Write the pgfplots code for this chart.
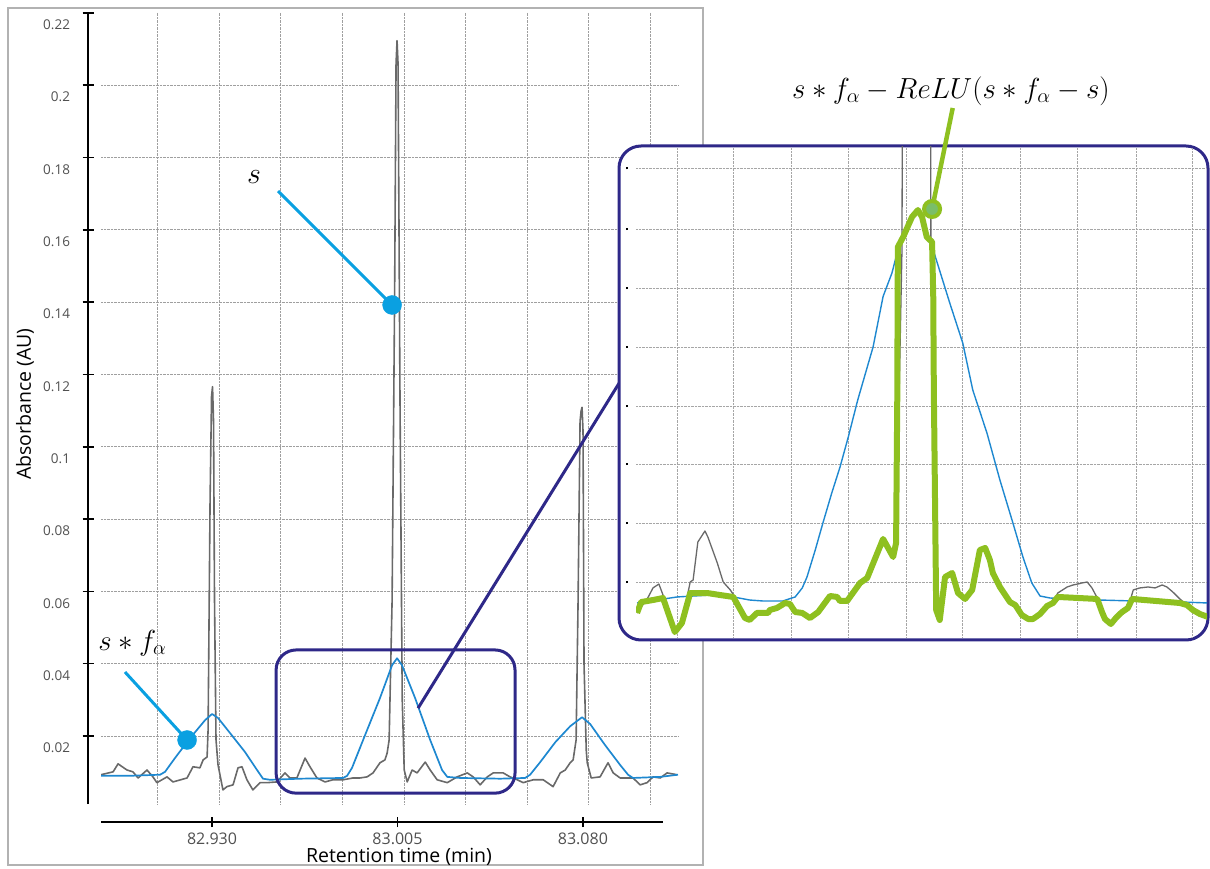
\RequirePackage{fix-cm}
\documentclass[border=0pt]{standalone}
\usepackage[no-math]{fontspec}
\usepackage{pgfplots}
\pgfplotsset{compat=1.18, scaled ticks=false}
\newfontfamily\osans{Open Sans}
\definecolor{indig}{RGB}{46,40,136}
\definecolor{sgray}{RGB}{105,105,105}
\definecolor{fblue}{RGB}{30,136,208}
\definecolor{acyan}{RGB}{10,160,225}
\definecolor{ggreen}{RGB}{142,192,32}
\definecolor{gfill}{RGB}{122,190,105}
\definecolor{tlab}{RGB}{80,80,80}
\begin{document}
\begin{tikzpicture}
\useasboundingbox (0,0) rectangle (1210pt,868pt);
\draw[gray!60, line width=1.2pt] (8pt,860pt) rectangle (703pt,3pt);

% ---------- main plot area ----------
\begin{axis}[at={(101pt,64pt)}, anchor=south west, scale only axis,
  width=577pt, height=791.2pt,
  xmin=82.8851, xmax=83.1184, ymin=0.0012, ymax=0.22,
  axis line style={draw=none}, major tick length=0pt,
  xtick={82.9081,82.9329,82.9578,82.9827,83.0076,83.0325,83.0574,83.0823,83.1072},
  ytick={0.02,0.04,0.06,0.08,0.1,0.12,0.14,0.16,0.18,0.2},
  xticklabels={}, yticklabels={},
  grid=major, grid style={gray!75, densely dotted, line width=0.8pt},
  clip mode=individual]
\addplot[sgray, line width=1.6pt, line join=round] coordinates {
(82.8851,0.0093)(82.8900,0.0101)(82.8920,0.0123)(82.8956,0.0106)(82.8980,0.0101)(82.9001,0.0084)(82.9037,0.0106)(82.9061,0.0087)(82.9077,0.0071)(82.9118,0.0087)(82.9142,0.0073)(82.9199,0.0084)(82.9223,0.0115)(82.9251,0.0112)(82.9264,0.0134)(82.9280,0.0142)(82.9284,0.0217)(82.9292,0.085)(82.9298,0.114)(82.9302,0.1166)(82.9306,0.107)(82.9310,0.0575)(82.9316,0.019)(82.9324,0.0121)(82.9344,0.0051)(82.9360,0.0060)(82.9385,0.0065)(82.9405,0.0112)(82.9421,0.0115)(82.9441,0.0079)(82.9465,0.0051)(82.9494,0.0071)(82.9522,0.0071)(82.9562,0.0073)(82.9595,0.0098)(82.9615,0.0084)(82.9643,0.0084)(82.9676,0.0139)(82.9696,0.0115)(82.9724,0.0084)(82.9757,0.0073)(82.9789,0.0079)(82.9830,0.0079)(82.9870,0.0084)(82.9898,0.0084)(82.9927,0.0087)(82.9951,0.0098)(82.9979,0.0126)(82.9999,0.0134)(83.0008,0.0153)(83.0016,0.0189)(83.0028,0.0575)(83.0038,0.140)(83.0044,0.206)(83.0048,0.2123)(83.0052,0.206)(83.0060,0.1126)(83.0069,0.030)(83.0077,0.0106)(83.0089,0.0073)(83.0109,0.0106)(83.0129,0.0098)(83.0162,0.0128)(83.0182,0.0106)(83.0210,0.0079)(83.0251,0.0071)(83.0291,0.0087)(83.0332,0.0098)(83.0356,0.0087)(83.0384,0.0065)(83.0413,0.0087)(83.0437,0.0098)(83.0477,0.0098)(83.0505,0.0087)(83.0534,0.0079)(83.0558,0.0071)(83.0599,0.0079)(83.0639,0.0079)(83.0679,0.0060)(83.0708,0.0098)(83.0728,0.0106)(83.0748,0.0126)(83.0760,0.0134)(83.0772,0.0189)(83.0780,0.0575)(83.0788,0.107)(83.0792,0.1098)(83.0796,0.1109)(83.0800,0.1043)(83.0804,0.040)(83.0813,0.0161)(83.0817,0.0126)(83.0833,0.0084)(83.0869,0.0087)(83.0901,0.0126)(83.0922,0.0098)(83.0950,0.0084)(83.1002,0.0084)(83.1031,0.0065)(83.1059,0.0071)(83.1083,0.0087)(83.1112,0.0084)(83.1140,0.0098)(83.1180,0.0093)};
\addplot[fblue, line width=1.7pt, line join=round] coordinates {
(82.8851,0.0090)(82.8968,0.0090)(82.9090,0.0093)(82.9110,0.0101)(82.9150,0.0139)(82.9211,0.0194)(82.9272,0.0244)(82.9300,0.0261)(82.9324,0.0250)(82.9373,0.0208)(82.9433,0.0156)(82.9482,0.0106)(82.9506,0.0082)(82.9534,0.0079)(82.9656,0.0082)(82.9830,0.0084)(82.9846,0.0090)(82.9866,0.0112)(82.9919,0.0203)(82.9979,0.0305)(83.0028,0.0396)(83.0048,0.0415)(83.0068,0.0396)(83.0121,0.0305)(83.0182,0.0189)(83.0230,0.0106)(83.0251,0.0087)(83.0303,0.0084)(83.0465,0.0082)(83.0566,0.0084)(83.0586,0.0093)(83.0627,0.0128)(83.0688,0.0183)(83.0748,0.0227)(83.0796,0.0252)(83.0829,0.0233)(83.0889,0.0175)(83.0950,0.0120)(83.0982,0.0093)(83.1002,0.0084)(83.1112,0.0087)(83.1184,0.0093)};
% zoom box and connector
\draw[indig, line width=3pt, rounded corners=20pt] (axis cs:82.9559,0.0438) rectangle (axis cs:83.0525,0.0042);
\draw[indig, line width=3pt] (axis cs:83.0133,0.0277) -- (axis cs:83.0946,0.1176);
% annotations
\draw[acyan, line width=3pt] (axis cs:82.9567,0.1707) -- (axis cs:83.0028,0.1392);
\addplot[only marks, mark=*, mark size=9.5pt, color=acyan] coordinates {(83.0028,0.1392)};
\draw[acyan, line width=3pt] (axis cs:82.8948,0.0377) -- (axis cs:82.9199,0.0189);
\addplot[only marks, mark=*, mark size=9.5pt, color=acyan] coordinates {(82.9199,0.0189)};
\node[anchor=base, font=\fontsize{30}{34}\selectfont] at (axis cs:82.9470,0.1729) {$s$};
\node[anchor=base, font=\fontsize{29}{33}\selectfont] at (axis cs:82.8978,0.0437) {$s * f_\alpha$};
\end{axis}

% ---------- y axis ----------
\begin{axis}[at={(88pt,64pt)}, anchor=south west, scale only axis,
  width=20pt, height=791.2pt, xmin=0, xmax=1, ymin=0.0012, ymax=0.22,
  axis y line=left, axis x line=none,
  y axis line style={-, line width=1.6pt, black},
  ytick={0.02,0.04,0.06,0.08,0.1,0.12,0.14,0.16,0.18,0.2,0.22},
  yticklabels={0.02,0.04,0.06,0.08,0.1,0.12,0.14,0.16,0.18,0.2,0.22},
  tick align=center, major tick length=11pt,
  major tick style={line width=1.6pt, black},
  yticklabel style={font=\osans\fontsize{13.5}{16}\selectfont, text=tlab, anchor=east, xshift=-9pt, yshift=-12pt}]
\addplot[draw=none] coordinates {(0.5,0.1)};
\end{axis}

% ---------- x axis ----------
\begin{axis}[at={(101pt,46pt)}, anchor=south west, scale only axis,
  width=562pt, height=10pt, xmin=82.8851, xmax=83.1124, ymin=0, ymax=1,
  axis x line=bottom, axis y line=none,
  x axis line style={-, line width=1.6pt, black},
  xtick={82.930,83.005,83.080}, xticklabels={82.930,83.005,83.080},
  tick align=center, major tick length=10pt,
  major tick style={line width=1.6pt, black},
  xticklabel style={font=\osans\fontsize{16}{19}\selectfont, text=tlab, yshift=-2pt}]
\addplot[draw=none] coordinates {(83.0,0.5)};
\end{axis}

\node[font=\osans\fontsize{19.5}{23}\selectfont, anchor=base] at (399pt,6pt) {Retention time (min)};
\node[font=\osans\fontsize{19.5}{23}\selectfont, rotate=90, anchor=base] at (31pt,464pt) {Absorbance (AU)};

% ---------- inset ----------
\draw[indig, line width=3pt, fill=white, rounded corners=22pt] (619pt,722pt) rectangle (1208pt,228pt);
\begin{axis}[at={(636pt,231pt)}, anchor=south west, scale only axis,
  width=571pt, height=490pt,
  xmin=82.95582, xmax=83.05260, ymin=0.005792, ymax=0.052019,
  axis line style={draw=none}, major tick length=0pt,
  xtick={82.9628,82.9724,82.9821,82.9919,83.0016,83.0112,83.0210,83.0307,83.0406,83.0501},
  ytick={0.01098,0.01655,0.02211,0.02758,0.03315,0.03872,0.04428,0.05},
  xticklabels={}, yticklabel={\rule{2.2pt}{2.2pt}},
  yticklabel style={anchor=center, inner sep=0pt, xshift=-9pt},
  grid=major, grid style={gray!70, densely dotted, line width=0.8pt},
  clip mode=individual]
\addplot[sgray, line width=1.3pt, line join=round] coordinates {
(82.9560,0.00806)(82.9579,0.00957)(82.9587,0.01042)(82.9597,0.01079)(82.9604,0.00975)(82.9624,0.00626)(82.9636,0.00711)(82.9650,0.01098)(82.9655,0.01117)(82.9663,0.01475)(82.9675,0.01579)(82.9680,0.01523)(82.9696,0.01277)(82.9706,0.01098)(82.9718,0.01023)(82.9726,0.00957)(82.9743,0.00758)(82.9751,0.00740)(82.9763,0.00806)(82.9782,0.00806)(82.9785,0.00834)(82.9797,0.00853)(82.9811,0.00900)(82.9819,0.00891)(82.9828,0.00815)(82.9840,0.00806)(82.9853,0.00758)(82.9867,0.00815)(82.9887,0.00966)(82.9899,0.00957)(82.9904,0.00919)(82.9916,0.00919)(82.9938,0.01089)(82.9950,0.01136)(82.9977,0.01504)(82.9994,0.01334)(82.9999,0.01466)(83.0004,0.02815)(83.0009,0.04230)(83.0012,0.10362)(83.0034,0.2123)(83.0056,0.10362)(83.0058,0.04296)(83.0062,0.02815)(83.0065,0.00928)(83.0067,0.00834)(83.0073,0.00740)(83.0082,0.01145)(83.0094,0.01183)(83.0104,0.00994)(83.0116,0.00938)(83.0128,0.01023)(83.0141,0.01400)(83.0150,0.01419)(83.0158,0.01306)(83.0163,0.01183)(83.0175,0.01051)(83.0192,0.00909)(83.0201,0.00881)(83.0212,0.00787)(83.0223,0.00749)(83.0231,0.00749)(83.0243,0.00796)(83.0255,0.00872)(83.0265,0.00900)(83.0273,0.00994)(83.0289,0.01051)(83.0299,0.01070)(83.0307,0.01079)(83.0314,0.01089)(83.0323,0.01098)(83.0331,0.01042)(83.0340,0.00947)(83.0348,0.00815)(83.0353,0.00749)(83.0363,0.00702)(83.0373,0.00768)(83.0382,0.00815)(83.0392,0.00853)(83.0401,0.01023)(83.0412,0.01042)(83.0426,0.01051)(83.0438,0.01042)(83.0450,0.01070)(83.0458,0.01051)(83.0468,0.01004)(83.0480,0.00938)(83.0492,0.00881)(83.0502,0.00834)(83.0514,0.00796)(83.0528,0.00768)};
\addplot[fblue, line width=1.4pt, line join=round] coordinates {
(82.9560,0.00900)(82.9628,0.00957)(82.9684,0.00975)(82.9723,0.00957)(82.9751,0.00928)(82.9773,0.00919)(82.9807,0.00919)(82.9828,0.00957)(82.9840,0.01042)(82.9848,0.01145)(82.9862,0.01400)(82.9875,0.01655)(82.9890,0.01938)(82.9904,0.02183)(82.9918,0.02466)(82.9934,0.02815)(82.9960,0.03315)(82.9977,0.03792)(82.9992,0.04013)(83.0002,0.04230)(83.0011,0.04353)(83.0026,0.04542)(83.0036,0.04607)(83.0043,0.04542)(83.0051,0.04353)(83.0062,0.04230)(83.0090,0.03730)(83.0112,0.03353)(83.0129,0.02909)(83.0153,0.02504)(83.0175,0.02060)(83.0197,0.01655)(83.0214,0.01334)(83.0229,0.01089)(83.0243,0.00966)(83.0260,0.00947)(83.0345,0.00928)(83.0401,0.00919)(83.0485,0.00909)(83.0528,0.00900)};
\addplot[ggreen, line width=6pt, line join=round] coordinates {
(82.9560,0.00806)(82.9567,0.00909)(82.9587,0.00928)(82.9604,0.00947)(82.9624,0.00626)(82.9636,0.00711)(82.9650,0.00994)(82.9679,0.00994)(82.9701,0.00975)(82.9723,0.00957)(82.9743,0.00758)(82.9751,0.00740)(82.9763,0.00806)(82.9782,0.00806)(82.9785,0.00834)(82.9797,0.00853)(82.9811,0.00900)(82.9819,0.00891)(82.9828,0.00815)(82.9840,0.00806)(82.9853,0.00758)(82.9867,0.00815)(82.9887,0.00966)(82.9899,0.00957)(82.9904,0.00919)(82.9916,0.00919)(82.9938,0.01089)(82.9950,0.01136)(82.9977,0.01504)(82.9994,0.01334)(82.9999,0.01466)(83.0001,0.02815)(83.0002,0.04258)(83.0011,0.04353)(83.0026,0.04542)(83.0036,0.04607)(83.0043,0.04542)(83.0051,0.04353)(83.0060,0.04306)(83.0062,0.03792)(83.0063,0.02909)(83.0067,0.00834)(83.0073,0.00740)(83.0082,0.01145)(83.0094,0.01183)(83.0104,0.00994)(83.0116,0.00938)(83.0128,0.01023)(83.0141,0.01400)(83.0150,0.01419)(83.0158,0.01306)(83.0163,0.01183)(83.0175,0.01051)(83.0192,0.00909)(83.0201,0.00881)(83.0212,0.00787)(83.0223,0.00749)(83.0231,0.00749)(83.0243,0.00796)(83.0255,0.00872)(83.0265,0.00900)(83.0273,0.00957)(83.0340,0.00938)(83.0348,0.00815)(83.0353,0.00749)(83.0363,0.00702)(83.0373,0.00768)(83.0382,0.00815)(83.0392,0.00853)(83.0399,0.00938)(83.0480,0.00900)(83.0492,0.00881)(83.0502,0.00834)(83.0514,0.00796)(83.0528,0.00768)};
\draw[ggreen, line width=4.5pt] (axis cs:83.0095,0.0557) -- (axis cs:83.0060,0.04617);
\addplot[only marks, mark=*, mark size=8pt, mark options={fill=gfill, draw=ggreen, line width=4pt}] coordinates {(83.0060,0.04617)};
\node[anchor=base, font=\fontsize{29}{33}\selectfont] at (axis cs:83.0092,0.05664) {$s * f_\alpha - ReLU(s * f_\alpha - s)$};
\end{axis}
\end{tikzpicture}
\end{document}
